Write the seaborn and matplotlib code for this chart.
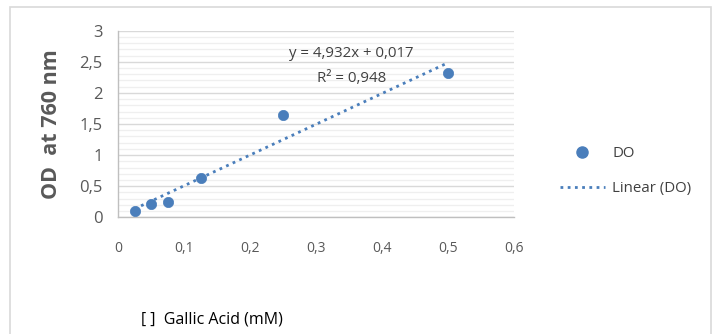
import numpy as np
import pandas as pd
import matplotlib
matplotlib.use("Agg")
import matplotlib.pyplot as plt
from matplotlib.ticker import FuncFormatter, MultipleLocator
from matplotlib.lines import Line2D
from matplotlib.patches import Rectangle
import seaborn as sns

# Data
conc = [0.025, 0.05, 0.075, 0.125, 0.25, 0.5]
od = [0.10, 0.214, 0.24, 0.627, 1.645, 2.315]
eq_text = "y = 4,932x + 0,017"
r2_text = "R² = 0,948"
series_name = "DO"
trend_name = "Linear (DO)"
x_label = "[ ]  Gallic Acid (mM)"
y_label = "OD  at 760 nm"

df = pd.DataFrame({"conc": conc, "od": od})

sns.set_theme(style="white")
plt.rcParams["font.family"] = ["Open Sans", "DejaVu Sans"]

blue = "#4A7EBB"
fig = plt.figure(figsize=(7.18, 3.34), dpi=100)
ax = fig.add_axes([118/718, 1 - 217.3/334, 396/718, (217.3 - 30.7)/334])

# frame around chart
fig.patches.append(Rectangle((10/718, -0.05), (711 - 10)/718, 1.05 - 7/334,
                             transform=fig.transFigure, fill=False,
                             edgecolor="#D9D9D9", linewidth=1.2))

sns.regplot(data=df, x="conc", y="od", ax=ax, scatter=False, ci=None,
            truncate=True, color=blue,
            line_kws=dict(linestyle=(0, (1, 1.6)), linewidth=2.0))
sns.scatterplot(data=df, x="conc", y="od", ax=ax, color=blue, s=55,
                edgecolor=blue, linewidth=0.5, zorder=5)

ax.set_xlim(0, 0.6)
ax.set_ylim(0, 3)
ax.xaxis.set_major_locator(MultipleLocator(0.1))
ax.yaxis.set_major_locator(MultipleLocator(0.5))
ax.yaxis.set_minor_locator(MultipleLocator(0.1))
fmt = FuncFormatter(lambda v, p: ("%g" % round(v, 2)).replace(".", ","))
ax.xaxis.set_major_formatter(fmt)
ax.yaxis.set_major_formatter(fmt)

ax.grid(False)
ax.yaxis.grid(True, which="major", color="#D9D9D9", linewidth=1.0)
ax.yaxis.grid(True, which="minor", color="#EFEFEF", linewidth=0.9)
ax.set_axisbelow(True)

for s in ["top", "right"]:
    ax.spines[s].set_visible(False)
for s in ["left", "bottom"]:
    ax.spines[s].set_color("#BFBFBF")
    ax.spines[s].set_linewidth(1.0)

ax.tick_params(axis="x", which="major", direction="out", length=7, width=1,
               color="#BFBFBF", pad=10, labelsize=10, labelcolor="#595959")
ax.tick_params(axis="y", which="major", direction="out", length=5, width=1,
               color="#BFBFBF", pad=6, labelsize=12, labelcolor="#595959")
ax.tick_params(axis="y", which="minor", length=0)

ax.set_xlabel("")
ax.set_ylabel("")
fig.text(52/718, 1 - 124/334, y_label, rotation=90, ha="center", va="center",
         fontsize=15.5, fontweight="bold", color="#595959")
fig.text(212/718, 1 - 320/334, x_label, ha="center", va="center",
         fontsize=11.5, color="#000000")

ax.text(0.354, 2.63, eq_text, ha="center", va="center", fontsize=10.8,
        color="#404040")
ax.text(0.354, 2.23, r2_text, ha="center", va="center", fontsize=10.8,
        color="#404040")

handles = [
    Line2D([], [], marker="o", linestyle="none", color=blue, markersize=8),
    Line2D([], [], linestyle=(0, (1, 1.6)), linewidth=2.0, color=blue),
]
fig.legend(handles, [series_name, trend_name], loc="center left",
           bbox_to_anchor=(546/718, 1 - 171/334), frameon=False,
           fontsize=10.8, labelcolor="#404040", handlelength=3.0,
           handletextpad=0.5, labelspacing=1.3)

fig.savefig("out.png", dpi=100)
